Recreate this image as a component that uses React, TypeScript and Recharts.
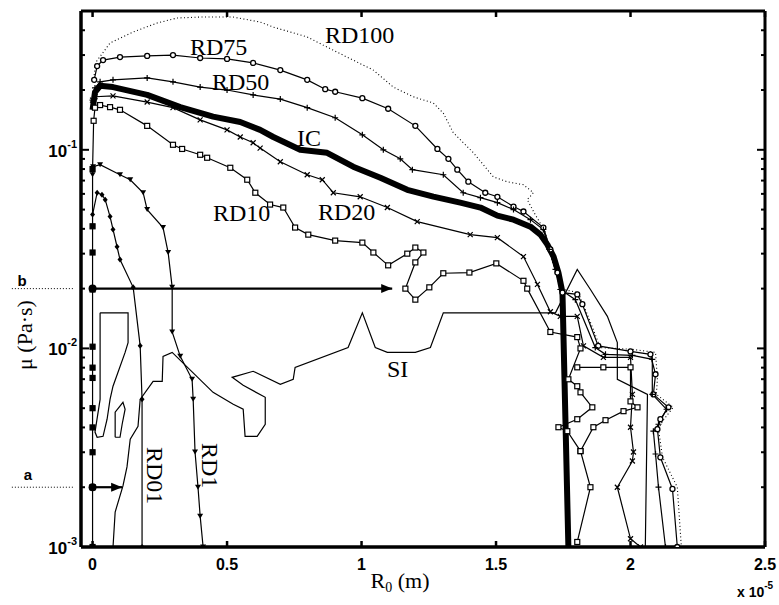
import React from "react";
import { LineChart, Line, XAxis, YAxis, ReferenceLine } from "recharts";

// ─── Data (x in units of 1e-5 m, y = viscosity in Pa·s) ───────────────────────

type Pt = [number, number];

const xTicks = [0, 0.5, 1, 1.5, 2, 2.5];
const yTicks = [
  0.001, 0.002, 0.003, 0.004, 0.005, 0.006, 0.007, 0.008, 0.009,
  0.01, 0.02, 0.03, 0.04, 0.05, 0.06, 0.07, 0.08, 0.09,
  0.1, 0.2, 0.3, 0.4, 0.5,
];
const yMajor = [0.001, 0.01, 0.1];

const rd100: Pt[] = [
  [0.006, 0.238], [0.013, 0.277], [0.065, 0.345], [0.151, 0.392], [0.24, 0.435],
  [0.314, 0.461], [0.4, 0.466], [0.523, 0.466], [0.623, 0.44], [0.672, 0.415],
  [0.798, 0.37], [0.872, 0.329], [0.946, 0.293], [1.044, 0.252], [1.118, 0.207],
  [1.192, 0.185], [1.267, 0.172], [1.304, 0.153], [1.341, 0.122], [1.416, 0.0966],
  [1.49, 0.0731], [1.542, 0.069], [1.602, 0.0667], [1.639, 0.0608], [1.616, 0.0561],
  [1.646, 0.0471], [1.683, 0.0387], [1.702, 0.0297], [1.724, 0.0235], [1.75, 0.0198],
  [1.806, 0.0191], [1.832, 0.0157], [1.888, 0.0101], [2.007, 0.00989], [2.093, 0.00955],
  [2.1, 0.00699], [2.096, 0.00587], [2.159, 0.00505], [2.119, 0.0043], [2.104, 0.00392],
  [2.119, 0.00283], [2.174, 0.002], [2.189, 0.001],
];

const rd75: Pt[] = [
  [0.006, 0.225], [0.017, 0.264], [0.039, 0.283], [0.102, 0.293], [0.203, 0.297],
  [0.299, 0.3], [0.4, 0.29], [0.5, 0.287], [0.597, 0.274], [0.698, 0.252],
  [0.798, 0.225], [0.865, 0.202], [0.902, 0.196], [1.003, 0.182], [1.099, 0.161],
  [1.2, 0.132], [1.282, 0.101], [1.323, 0.0901], [1.356, 0.0794], [1.397, 0.0691],
  [1.46, 0.0608], [1.505, 0.058], [1.565, 0.0518], [1.602, 0.0489], [1.676, 0.0406],
  [1.702, 0.0315], [1.728, 0.0241], [1.747, 0.0191], [1.802, 0.0187], [1.821, 0.0167],
  [1.88, 0.0103], [2.0, 0.00966], [2.074, 0.00934], [2.093, 0.00741], [2.085, 0.00587],
  [2.141, 0.00505], [2.111, 0.0044], [2.1, 0.00392], [2.111, 0.00283], [2.156, 0.00196],
  [2.174, 0.001],
];

const rd50: Pt[] = [
  [0, 0.178], [0.009, 0.205], [0.028, 0.22], [0.076, 0.225], [0.203, 0.23],
  [0.299, 0.22], [0.4, 0.207], [0.5, 0.2], [0.597, 0.189], [0.698, 0.18],
  [0.798, 0.163], [0.902, 0.145], [1.003, 0.119], [1.081, 0.1], [1.144, 0.0901],
  [1.189, 0.0794], [1.304, 0.0749], [1.378, 0.0608], [1.442, 0.0574], [1.505, 0.0542],
  [1.565, 0.05], [1.628, 0.0445], [1.676, 0.0397], [1.698, 0.0315], [1.721, 0.025],
  [1.739, 0.0198], [1.795, 0.0176], [1.869, 0.0101], [1.907, 0.00934], [2.007, 0.00923],
  [2.081, 0.00881], [2.081, 0.00587], [2.134, 0.00494], [2.104, 0.00415], [2.085, 0.00383],
  [2.093, 0.00294], [2.104, 0.002], [2.13, 0.001],
];

const ic: Pt[] = [
  [0, 0.159], [0.009, 0.195], [0.028, 0.21], [0.076, 0.207], [0.203, 0.189],
  [0.326, 0.164], [0.448, 0.147], [0.549, 0.138], [0.623, 0.126], [0.672, 0.116],
  [0.772, 0.1], [0.872, 0.0966], [0.969, 0.0822], [1.07, 0.0723], [1.17, 0.0629],
  [1.267, 0.0581], [1.367, 0.0542], [1.442, 0.0512], [1.505, 0.0466], [1.565, 0.0445],
  [1.628, 0.041], [1.665, 0.0374], [1.691, 0.0333], [1.714, 0.029], [1.732, 0.0241],
  [1.747, 0.0191], [1.758, 0.0044], [1.769, 0.001],
];

const rd20: Pt[] = [
  [0, 0.178], [0.009, 0.185], [0.076, 0.187], [0.203, 0.174], [0.299, 0.163],
  [0.4, 0.1415], [0.5, 0.126], [0.549, 0.116], [0.597, 0.1085], [0.623, 0.102],
  [0.698, 0.0871], [0.798, 0.0749], [0.854, 0.0707], [0.895, 0.0608], [0.995, 0.058],
  [1.096, 0.0512], [1.207, 0.0435], [1.404, 0.0374], [1.505, 0.0361], [1.602, 0.029],
  [1.654, 0.021], [1.702, 0.0153], [1.739, 0.0145], [1.802, 0.0145], [1.825, 0.0103],
  [1.899, 0.00902], [2.0, 0.00902], [2.007, 0.00587], [2.0, 0.00401], [2.011, 0.00301],
  [2.007, 0.00271], [1.951, 0.002], [2.0, 0.0011], [2.037, 0.001],
];

const rd10: Pt[] = [
  [0, 0.001], [0, 0.002], [0, 0.003], [0, 0.004], [0, 0.005], [0, 0.0071], [0, 0.008],
  [0, 0.0102], [0, 0.0198], [0, 0.0304], [0, 0.0412], [0, 0.08], [0.004, 0.14],
  [0.009, 0.163], [0.028, 0.168], [0.065, 0.164], [0.102, 0.159], [0.203, 0.132],
  [0.299, 0.106], [0.333, 0.101], [0.4, 0.0944], [0.426, 0.0912], [0.512, 0.0812],
  [0.575, 0.0707], [0.605, 0.0608], [0.66, 0.053], [0.709, 0.0512], [0.753, 0.0406],
  [0.802, 0.0374], [0.902, 0.0349], [1.003, 0.0341], [1.044, 0.0304], [1.099, 0.0262],
  [1.17, 0.03], [1.2, 0.0322], [1.23, 0.0304], [1.2, 0.0271], [1.163, 0.02],
  [1.2, 0.0176], [1.252, 0.0203], [1.304, 0.0239], [1.401, 0.0241], [1.501, 0.0268],
  [1.602, 0.0219], [1.616, 0.02], [1.702, 0.0121], [1.802, 0.0114], [1.814, 0.01],
  [1.769, 0.00699], [1.802, 0.00645], [1.814, 0.00601], [1.858, 0.00505], [1.802, 0.0044],
  [1.732, 0.00401], [1.765, 0.00383], [1.814, 0.00304], [1.851, 0.002], [1.802, 0.00106],
];

const rd10Tail: Pt[] = [
  [1.802, 0.00803], [1.899, 0.00803], [2.0, 0.00803], [2.0, 0.00541], [2.026, 0.00505],
  [1.974, 0.00483], [1.907, 0.00435], [1.862, 0.00401], [1.814, 0.00304],
];

const rd1: Pt[] = [
  [0, 0.0749], [0.002, 0.0822], [0.028, 0.0841], [0.102, 0.0749], [0.14, 0.0707],
  [0.188, 0.0608], [0.203, 0.05], [0.262, 0.0406], [0.281, 0.0304], [0.296, 0.0203],
  [0.296, 0.0121], [0.326, 0.00912], [0.37, 0.00699], [0.374, 0.00554], [0.381, 0.00301],
  [0.392, 0.002], [0.4, 0.00143], [0.411, 0.001],
];

const rd01: Pt[] = [
  [0, 0.0472], [0.017, 0.0608], [0.035, 0.0594], [0.047, 0.0561], [0.065, 0.0461],
  [0.076, 0.0397], [0.091, 0.0325], [0.102, 0.028], [0.151, 0.0203], [0.177, 0.0103],
  [0.184, 0.00554], [0.184, 0.001],
];

const si: Pt[] = [
  [0.076, 0.001], [0.084, 0.0015], [0.113, 0.00203], [0.128, 0.00253], [0.14, 0.00349],
  [0.169, 0.00405], [0.177, 0.00554], [0.225, 0.00683], [0.259, 0.00683], [0.262, 0.00912],
  [0.296, 0.00955], [0.448, 0.00601], [0.523, 0.00523], [0.56, 0.00494], [0.567, 0.00361],
  [0.612, 0.00361], [0.642, 0.00415], [0.642, 0.00567], [0.56, 0.00652], [0.519, 0.00715],
  [0.597, 0.00767], [0.698, 0.0066], [0.746, 0.00699], [0.753, 0.00803], [0.95, 0.0101],
  [1.003, 0.0151], [1.051, 0.0101], [1.096, 0.00955], [1.2, 0.00955], [1.256, 0.0101],
  [1.304, 0.0151], [1.721, 0.0151], [1.802, 0.025], [1.851, 0.0198], [1.914, 0.0145],
  [1.951, 0.0107], [1.951, 0.00699], [2.063, 0.00587], [2.055, 0.001],
];

const siLoop1: Pt[] = [
  [0.028, 0.0151], [0.132, 0.0151], [0.132, 0.0107], [0.121, 0.00955], [0.076, 0.00645],
  [0.065, 0.00554], [0.054, 0.0044], [0.039, 0.00361], [0.017, 0.00357], [0.009, 0.00379],
  [0.028, 0.00554], [0.028, 0.0151],
];

const siLoop2: Pt[] = [
  [0.084, 0.00357], [0.084, 0.00477], [0.113, 0.00535], [0.121, 0.00494], [0.11, 0.00415],
  [0.102, 0.00357], [0.084, 0.00357],
];

// starting levels a and b, and how far the arrows reach
const levelA = 0.002;
const levelB = 0.02;
const arrowA: Pt[] = [[0, levelA], [0.11, levelA]];
const arrowB: Pt[] = [[0, levelB], [1.114, levelB]];

const rows = (pts: Pt[]) => pts.map(([x, y]) => ({ x, y }));

// ─── Markers ───────────────────────────────────────────────────────────────────

const K = "#000";

const noDot = false as const;

const circleDot = (p: any) =>
  p.cx == null ? null : (
    <circle key={`c${p.index}`} cx={p.cx} cy={p.cy} r={2.5} fill="#fff" stroke={K} strokeWidth={1.3} />
  );

const plusDot = (p: any) =>
  p.cx == null ? null : (
    <path key={`p${p.index}`} d={`M${p.cx - 3},${p.cy}h6M${p.cx},${p.cy - 3}v6`} stroke={K} strokeWidth={1.2} />
  );

const crossDot = (p: any) =>
  p.cx == null ? null : (
    <path
      key={`x${p.index}`}
      d={`M${p.cx - 2.5},${p.cy - 2.5}l5,5M${p.cx - 2.5},${p.cy + 2.5}l5,-5`}
      stroke={K}
      strokeWidth={1.2}
    />
  );

const squareDot = (p: any) =>
  p.cx == null ? null : (
    <rect
      key={`s${p.index}`}
      x={p.cx - 2.5}
      y={p.cy - 2.5}
      width={5}
      height={5}
      fill={p.payload && p.payload.x === 0 ? K : "#fff"}
      stroke={K}
      strokeWidth={1.2}
    />
  );

const triDot = (p: any) =>
  p.cx == null ? null : (
    <path key={`t${p.index}`} d={`M${p.cx - 3},${p.cy - 2.5}h6l-3,5z`} fill={K} />
  );

const diamondDot = (p: any) =>
  p.cx == null ? null : (
    <path key={`d${p.index}`} d={`M${p.cx},${p.cy - 3}l2.5,3l-2.5,3l-2.5,-3z`} fill={K} />
  );

// big dot at the start, arrow head at the end
const arrowDot = (p: any) => {
  if (p.cx == null) return null;
  if (p.index === 0) return <circle key="a0" cx={p.cx} cy={p.cy} r={4} fill={K} />;
  return <path key="a1" d={`M${p.cx},${p.cy}l-11,-4.5v9z`} fill={K} />;
};

// ─── Axis ticks ────────────────────────────────────────────────────────────────

const TICK_FONT = "'Liberation Sans', Arial, sans-serif";

function LeftTick(props: any) {
  const { x, y, payload } = props;
  const v = payload.value;
  const major = yMajor.includes(v);
  return (
    <g>
      <line x1={x} y1={y} x2={x + (major ? 8 : 4)} y2={y} stroke={K} strokeWidth={2} />
      {major && (
        <text x={x - 4} y={y + 7} textAnchor="end" fontFamily={TICK_FONT} fontWeight="bold" fontSize={17} fill={K}>
          10
          <tspan dy={-9} fontSize={11}>
            {String(Math.round(Math.log10(v)))}
          </tspan>
        </text>
      )}
    </g>
  );
}

function RightTick(props: any) {
  const { x, y, payload } = props;
  const major = yMajor.includes(payload.value);
  return <line x1={x} y1={y} x2={x - (major ? 8 : 4)} y2={y} stroke={K} strokeWidth={2} />;
}

function BottomTick(props: any) {
  const { x, y, payload } = props;
  return (
    <g>
      <line x1={x} y1={y} x2={x} y2={y - 6} stroke={K} strokeWidth={2.5} />
      <text x={x} y={y + 23} textAnchor="middle" fontFamily={TICK_FONT} fontWeight="bold" fontSize={16} fill={K}>
        {String(payload.value)}
      </text>
    </g>
  );
}

function TopTick(props: any) {
  const { x, y } = props;
  return <line x1={x} y1={y} x2={x} y2={y + 6} stroke={K} strokeWidth={2.5} />;
}

// ─── Curve labels ──────────────────────────────────────────────────────────────

const SERIF = "'Liberation Serif', 'Times New Roman', serif";

const curveLabels = [
  { t: "RD100", x: 325, y: 43 },
  { t: "RD75", x: 190, y: 55 },
  { t: "RD50", x: 212, y: 90 },
  { t: "IC", x: 297, y: 146 },
  { t: "RD10", x: 213, y: 221 },
  { t: "RD20", x: 318, y: 220 },
  { t: "SI", x: 387, y: 377 },
];

const rotatedLabels = [
  { t: "RD01", x: 147, y: 447 },
  { t: "RD1", x: 202, y: 443 },
];

// ─── Component ─────────────────────────────────────────────────────────────────

const W = 779;
const H = 605;

export default function App() {
  const line = (id: string, pts: Pt[], dot: any, extra: any = {}) => (
    <Line
      key={id}
      data={rows(pts)}
      dataKey="y"
      type="linear"
      stroke={K}
      strokeWidth={1.2}
      dot={dot}
      activeDot={false}
      isAnimationActive={false}
      {...extra}
    />
  );

  // plot area: x 81..765, y 11..547
  return (
    <div style={{ position: "absolute", left: 0, top: 0, width: W, height: H, background: "#fff" }}>
      <LineChart width={W} height={H} margin={{ top: 6, right: 9, bottom: 28, left: 21 }}>
        <XAxis
          dataKey="x"
          type="number"
          domain={[-0.043, 2.5]}
          allowDataOverflow
          ticks={xTicks}
          interval={0}
          height={30}
          tickSize={0}
          tickMargin={0}
          tickLine={false}
          axisLine={{ stroke: K, strokeWidth: 3.5 }}
          tick={(p: any) => <BottomTick {...p} />}
        />
        <XAxis
          xAxisId="top"
          orientation="top"
          dataKey="x"
          type="number"
          domain={[-0.043, 2.5]}
          allowDataOverflow
          ticks={xTicks}
          interval={0}
          height={5}
          tickSize={0}
          tickMargin={0}
          tickLine={false}
          axisLine={{ stroke: K, strokeWidth: 3 }}
          tick={(p: any) => <TopTick {...p} />}
        />
        <YAxis
          type="number"
          scale="log"
          domain={[0.001, 0.5]}
          allowDataOverflow
          ticks={yTicks}
          interval={0}
          width={60}
          tickSize={0}
          tickMargin={0}
          tickLine={false}
          axisLine={{ stroke: K, strokeWidth: 3.5 }}
          tick={(p: any) => <LeftTick {...p} />}
        />
        <YAxis
          yAxisId="right"
          orientation="right"
          type="number"
          scale="log"
          domain={[0.001, 0.5]}
          allowDataOverflow
          ticks={yTicks}
          interval={0}
          width={5}
          tickSize={0}
          tickMargin={0}
          tickLine={false}
          axisLine={{ stroke: K, strokeWidth: 3 }}
          tick={(p: any) => <RightTick {...p} />}
        />

        {/* dotted guides for levels a and b, outside the plot on the left */}
        <ReferenceLine
          segment={[{ x: -0.3, y: levelB }, { x: -0.072, y: levelB }]}
          stroke={K}
          strokeWidth={1}
          strokeDasharray="1 2"
          ifOverflow="visible"
        />
        <ReferenceLine
          segment={[{ x: -0.3, y: levelA }, { x: -0.072, y: levelA }]}
          stroke={K}
          strokeWidth={1}
          strokeDasharray="1 2"
          ifOverflow="visible"
        />

        {line("rd100", rd100, noDot, { strokeDasharray: "1 2.5", strokeWidth: 1.1 })}
        {line("si", si, noDot)}
        {line("siLoop1", siLoop1, noDot)}
        {line("siLoop2", siLoop2, noDot)}
        {line("rd75", rd75, circleDot)}
        {line("rd50", rd50, plusDot)}
        {line("rd20", rd20, crossDot)}
        {line("rd10", rd10, squareDot)}
        {line("rd10Tail", rd10Tail, squareDot)}
        {line("rd1", rd1, triDot)}
        {line("rd01", rd01, diamondDot)}
        {line("ic", ic, noDot, { strokeWidth: 6, strokeLinejoin: "round" })}
        {line("arrowB", arrowB, arrowDot, { strokeWidth: 2.2 })}
        {line("arrowA", arrowA, arrowDot, { strokeWidth: 2.2 })}
      </LineChart>

      <svg width={W} height={H} style={{ position: "absolute", left: 0, top: 0, pointerEvents: "none" }}>
        {curveLabels.map((l) => (
          <text key={l.t} x={l.x} y={l.y} fontFamily={SERIF} fontSize={24} fill={K}>
            {l.t}
          </text>
        ))}
        {rotatedLabels.map((l) => (
          <text
            key={l.t}
            x={l.x}
            y={l.y}
            fontFamily={SERIF}
            fontSize={24}
            fill={K}
            transform={`rotate(90, ${l.x}, ${l.y})`}
          >
            {l.t}
          </text>
        ))}

        <text x={22} y={286} textAnchor="middle" fontFamily={TICK_FONT} fontWeight="bold" fontSize={15} fill={K}>
          b
        </text>
        <text x={28} y={480} textAnchor="middle" fontFamily={TICK_FONT} fontWeight="bold" fontSize={15} fill={K}>
          a
        </text>

        <text
          x={32}
          y={335}
          textAnchor="middle"
          fontFamily={SERIF}
          fontSize={22}
          fill={K}
          transform="rotate(-90, 32, 335)"
        >
          μ (Pa·s)
        </text>

        <text x={400} y={588} textAnchor="middle" fontFamily={SERIF} fontSize={22} fill={K}>
          R
          <tspan fontSize={14} dy={4}>0</tspan>
          <tspan dy={-4}> (m)</tspan>
        </text>

        <text x={737} y={597} fontFamily={TICK_FONT} fontWeight="bold" fontSize={14} fill={K}>
          x 10
          <tspan dy={-8} fontSize={10}>-5</tspan>
        </text>
      </svg>
    </div>
  );
}
